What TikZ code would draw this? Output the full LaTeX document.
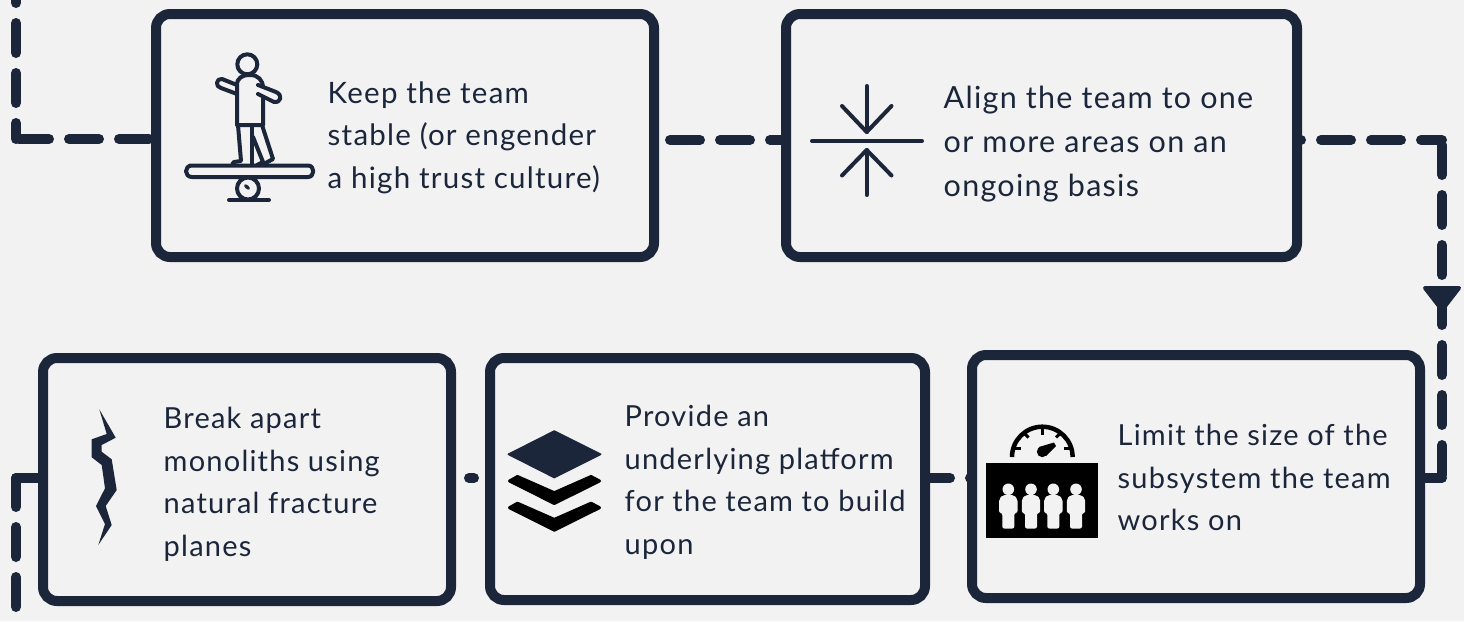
\documentclass[tikz,border=0pt]{standalone}
\usepackage{fontspec}
\setmainfont{Lato}[LetterSpace=4.2]
\definecolor{navy}{HTML}{1B263B}
\definecolor{bg}{HTML}{F2F2F2}
\tikzset{
  x=1pt,y=-1pt,
  box/.style={draw=navy,line width=10pt,rounded corners=14pt,fill=bg,outer sep=0pt,inner sep=0pt},
  label/.style={anchor=west,inner sep=0pt,align=left,text=navy,font=\fontsize{29.5}{42.5}\selectfont},
  labelsmall/.style={label,font=\fontsize{29}{42.5}\selectfont},
  link/.style={draw=navy,line width=10pt,line cap=round,dash pattern=on 30pt off 20pt},
  linksolid/.style={draw=navy,line width=10pt,line cap=round},
  ico/.style={draw=navy,line width=4pt,line cap=round,line join=round},
}
\begin{document}
\begin{tikzpicture}
\useasboundingbox[fill=bg] (0,0) rectangle (1464,621);
% connectors
\coordinate (c0) at (16,0);
\coordinate (c1) at (16,139);
\coordinate (c2) at (1442,140);
\coordinate (c3) at (1442,478);
\coordinate (c4) at (16,478);
\coordinate (c5) at (16,621);
\draw[link,dash phase=27] (c0) -- (c1);
\draw[link,dash phase=47] (c1) -- (156,139);
\draw[link,dash phase=34] (654,140) -- (786,140);
\draw[link,dash phase=26] (1297,140) -- (c2);
\draw[link,dash phase=45] (c2) -- (c3);
\draw[linksolid] (c3) -- (1419,478);
\draw[link,dash phase=28] (972,478) -- (925,478);
\draw[linksolid] (474,478) -- (469,478);
\draw[linksolid] (43,478) -- (c4);
\draw[link,dash phase=1] (c4) -- (c5);
% arrowhead
\fill[navy,draw=navy,line width=4pt,line join=round] (1425,288) -- (1459,288) -- (1442,310) -- cycle;
% boxes
\node[box,minimum width=498pt,minimum height=243pt,anchor=north west] (b1) at (156,14) {};
\node[box,minimum width=511pt,minimum height=243pt,anchor=north west] (b2) at (786,14) {};
\node[box,minimum width=448pt,minimum height=243pt,anchor=north west] (b3) at (972,355) {};
\node[box,minimum width=435pt,minimum height=242pt,anchor=north west] (b4) at (490,358) {};
\node[box,minimum width=408pt,minimum height=243pt,anchor=north west] (b5) at (43,358) {};
% labels
\node[label] (t1) at (327.5,137.5) {Keep the team\\stable (or engender\\a high trust culture)};
\node[label,font=\fontsize{30.5}{44}\selectfont] (t2) at (943.5,144.5) {Align the team to one\\or more areas on an\\ongoing basis};
\node[labelsmall] (t3) at (1117.5,477.5) {Limit the size of the\\subsystem the team\\works on};
\node[labelsmall] (t4) at (624.5,482.5) {Provide an\\underlying platform\\for the team to build\\upon};
\node[labelsmall] (t5) at (163.5,484.5) {Break apart\\monoliths using\\natural fracture\\planes};
% balance icon
\draw[ico] (247.3,64.3) circle (10);
\draw[ico,fill=bg] (237,125) -- (237,85) .. controls (237,78) and (242,75) .. (250,75) .. controls (258,75) and (263,80) .. (263,88) -- (263,125) -- cycle;
\draw[ico] (237,85) -- (222,79) .. controls (216,78) and (215,87) .. (221,88) -- (237,94);
\draw[ico,fill=bg] (258,94) -- (274,102) .. controls (281,103) and (283,95) .. (276,92) -- (258,85);
\draw[ico] (238,125) -- (241,161) -- (234,162) .. controls (232,163) and (232,165) .. (233,165);
\draw[ico] (251.5,125) -- (251.5,165);
\draw[ico] (253,137) -- (263,162) -- (257,165);
\draw[ico] (262,125) -- (273,159) -- (262,165);
\draw[ico] (190,165.5) -- (308,165.5) .. controls (315,165.5) and (315,177) .. (308,177) -- (192,177) .. controls (184,177) and (184,165.5) .. (192,165.5);
\draw[ico] (248,188.5) circle (11);
\fill[navy,rotate around={-40:(247,187)}] (247,187) ellipse (3.5 and 1.8);
\draw[ico] (229,200) -- (269,200);
% align icon
\draw[ico] (812,141) -- (922,141);
\draw[ico] (866.7,86) -- (866.7,132);
\draw[ico] (842,106) -- (866.7,132) -- (891.5,106);
\draw[ico] (866.7,195) -- (866.7,150);
\draw[ico] (842,175.5) -- (866.7,150) -- (891.5,175.5);
% gauge icon
\fill[black] (986,463) rectangle (1098,538);
\draw[black,line width=4.5pt] (1012,457) arc (180:360:30.3);
\draw[black,line width=3pt] (1012,448) -- ++(9,0);
\draw[black,line width=3pt] (1072.6,448) -- ++(-9,0);
\draw[black,line width=3pt] (1042.3,427) -- ++(0,8);
\draw[black,line width=3pt] (1023,432) -- ++(5.5,5.5);
\draw[black,line width=3pt] (1061.6,432) -- ++(-5.5,5.5);
\fill[black] (1042.3,451.7) circle (5.5);
\fill[black] (1039,447) -- (1054,442.5) -- (1056,446) -- (1046,456) -- cycle;
\foreach \px in {1008.3,1031,1053.3,1076}{
  \fill[bg] (\px,489.3) circle (5.8);
  \fill[bg,rounded corners=2pt] (\px-9.2,513) -- (\px-9.2,499) -- (\px-5.5,495) -- (\px+5.5,495) -- (\px+9.2,499) -- (\px+9.2,513) -- (\px+6,513) -- (\px+6,528.5) -- (\px-6,528.5) -- (\px-6,513) -- cycle;
}
% crack icon
\fill[navy] (99.3,409.3) -- (115.7,437.7) -- (101.7,445) -- (101.7,451.7) -- (111.7,459.3) -- (116.7,490) -- (105.7,506) -- (111.7,525) -- (98.3,545) -- (105,524) -- (96,506) -- (105,488.3) -- (101.7,465) -- (91.7,457.3) -- (91.7,439.3) -- (106.7,434) -- cycle;
% layers icon
\fill[navy,draw=navy,line width=1.5pt,line join=round] (554.3,431) -- (600.7,454.3) -- (554.3,477.6) -- (508.3,454.3) -- cycle;
\foreach \dy in {0,26.7}{
  \fill[black,draw=black,line width=3pt,line join=round] (509.5,481+\dy) -- (517.5,476.5+\dy) -- (554.3,492.7+\dy) -- (591,476.5+\dy) -- (599.5,481+\dy) -- (554.3,503.5+\dy) -- cycle;
}
\end{tikzpicture}
\end{document}
